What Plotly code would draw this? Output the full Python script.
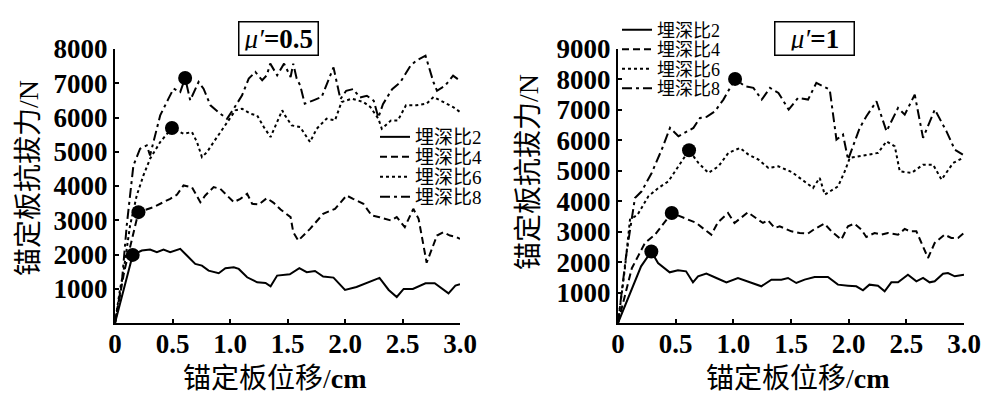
import plotly.graph_objects as go

# ---------- data: left panel (mu' = 0.5) ----------
L2_x = [0, 0.154, 0.233, 0.305, 0.364, 0.422, 0.48, 0.567, 0.625, 0.698, 0.756, 0.814, 0.902, 0.96, 1.033, 1.076, 1.149, 1.236, 1.309, 1.353, 1.41, 1.52, 1.603, 1.667, 1.739, 1.81, 1.9, 2.0, 2.1, 2.22, 2.3, 2.38, 2.45, 2.51, 2.59, 2.7, 2.78, 2.9, 2.96, 3.0]
L2_y = [0, 1988, 2115, 2144, 2066, 2144, 2066, 2164, 1969, 1725, 1676, 1530, 1452, 1598, 1628, 1579, 1335, 1189, 1170, 1072, 1384, 1420, 1599, 1482, 1520, 1355, 1325, 965, 1053, 1199, 1316, 965, 760, 994, 994, 1160, 1160, 867, 1092, 1131]

L4_x = [0, 0.08, 0.204, 0.334, 0.48, 0.538, 0.596, 0.669, 0.742, 0.785, 0.858, 0.916, 0.974, 1.033, 1.09, 1.149, 1.193, 1.25, 1.32, 1.38, 1.44, 1.527, 1.55, 1.594, 1.696, 1.81, 1.913, 2.014, 2.07, 2.13, 2.16, 2.232, 2.3, 2.4, 2.45, 2.52, 2.594, 2.64, 2.71, 2.8, 2.855, 2.913, 2.97, 3.0]
L4_y = [0, 1500, 3236, 3382, 3626, 3743, 4016, 3967, 3528, 3723, 3967, 3918, 3723, 3528, 3626, 3772, 3480, 3460, 3645, 3509, 3314, 3090, 2652, 2407, 2749, 3187, 3333, 3723, 3626, 3528, 3480, 3138, 3090, 2992, 3090, 2797, 3333, 3041, 1760, 2553, 2652, 2553, 2505, 2456]

L6_x = [0, 0.044, 0.073, 0.131, 0.189, 0.247, 0.305, 0.393, 0.495, 0.596, 0.669, 0.713, 0.756, 0.8, 0.858, 0.916, 0.974, 1.047, 1.105, 1.178, 1.236, 1.294, 1.353, 1.41, 1.454, 1.478, 1.536, 1.61, 1.696, 1.754, 1.84, 1.913, 1.97, 2.06, 2.16, 2.22, 2.29, 2.32, 2.4, 2.46, 2.53, 2.62, 2.71, 2.77, 2.855, 2.94, 3.0]
L6_y = [0, 994, 1481, 2846, 3723, 4308, 4795, 5283, 5692, 5526, 5575, 5283, 4844, 4990, 5283, 5575, 5867, 6209, 6257, 6111, 6062, 5721, 5429, 5867, 6209, 6062, 5770, 5721, 5283, 5672, 5965, 5916, 6452, 6550, 6452, 6306, 5965, 5672, 5916, 5916, 6355, 6355, 6404, 6599, 6452, 6306, 6160]

L8_x = [0, 0.06, 0.102, 0.16, 0.218, 0.276, 0.305, 0.393, 0.465, 0.509, 0.567, 0.61, 0.654, 0.727, 0.77, 0.83, 0.916, 0.974, 1.033, 1.105, 1.163, 1.22, 1.28, 1.32, 1.35, 1.41, 1.47, 1.527, 1.55, 1.58, 1.61, 1.65, 1.725, 1.797, 1.9, 1.96, 2.01, 2.07, 2.13, 2.19, 2.25, 2.29, 2.33, 2.41, 2.48, 2.57, 2.62, 2.7, 2.77, 2.8, 2.87, 2.94, 3.0]
L8_y = [0, 1200, 2846, 4600, 5088, 5185, 4893, 6062, 6550, 6842, 6745, 7154, 6501, 7037, 6842, 6355, 6111, 5965, 6257, 6647, 7135, 7330, 7086, 7232, 7573, 7232, 7573, 7183, 7573, 7135, 6940, 6404, 6501, 6599, 7463, 6537, 6780, 6829, 6585, 6634, 6488, 6000, 6390, 6829, 7024, 7512, 7658, 7805, 7024, 6780, 6927, 7220, 7073]

L_peak_x = [0.154, 0.204, 0.495, 0.61]
L_peak_y = [1988, 3236, 5692, 7154]

# ---------- data: right panel (mu' = 1) ----------
R2_x = [0, 0.2, 0.289, 0.347, 0.448, 0.52, 0.59, 0.65, 0.694, 0.766, 0.853, 0.94, 1.04, 1.127, 1.243, 1.33, 1.416, 1.474, 1.546, 1.618, 1.705, 1.82, 1.907, 1.994, 2.066, 2.124, 2.18, 2.254, 2.312, 2.37, 2.428, 2.514, 2.587, 2.645, 2.702, 2.746, 2.818, 2.861, 2.92, 3.0]
R2_y = [0, 1862, 2350, 1971, 1665, 1731, 1698, 1336, 1533, 1621, 1479, 1336, 1479, 1369, 1205, 1424, 1424, 1479, 1314, 1424, 1512, 1512, 1260, 1227, 1205, 1073, 1260, 1227, 1041, 1336, 1336, 1588, 1369, 1479, 1336, 1369, 1621, 1643, 1533, 1588]

R4_x = [0, 0.12, 0.234, 0.321, 0.466, 0.607, 0.68, 0.751, 0.809, 0.867, 0.954, 1.01, 1.084, 1.127, 1.214, 1.257, 1.3, 1.358, 1.402, 1.503, 1.575, 1.647, 1.705, 1.79, 1.85, 1.936, 1.994, 2.05, 2.11, 2.153, 2.225, 2.283, 2.34, 2.428, 2.486, 2.529, 2.587, 2.63, 2.688, 2.746, 2.832, 2.89, 2.948, 3.0]
R4_y = [0, 1800, 2629, 2902, 3615, 3395, 3286, 3067, 2902, 3308, 3614, 3286, 3505, 3636, 3395, 3286, 3373, 3121, 3176, 3012, 2957, 2935, 3089, 3264, 3012, 2738, 3176, 3264, 3067, 2826, 2957, 2902, 2957, 2902, 3089, 3012, 3012, 2629, 2136, 2629, 2902, 2793, 2793, 2957]

R6_x = [0, 0.06, 0.104, 0.147, 0.17, 0.263, 0.35, 0.437, 0.524, 0.616, 0.697, 0.784, 0.871, 0.957, 1.058, 1.131, 1.218, 1.304, 1.39, 1.506, 1.634, 1.691, 1.749, 1.793, 1.908, 1.966, 2.01, 2.096, 2.183, 2.255, 2.328, 2.4, 2.443, 2.545, 2.645, 2.732, 2.805, 2.906, 2.99]
R6_y = [0, 1800, 3395, 3504, 3560, 4161, 4436, 4654, 5146, 5672, 5258, 4929, 5146, 5587, 5751, 5531, 5366, 5094, 5146, 4960, 4600, 4436, 4765, 4216, 4489, 4982, 5422, 5475, 5531, 5587, 5968, 5804, 4982, 4929, 5202, 5202, 4709, 5258, 5422]

R8_x = [0, 0.07, 0.147, 0.205, 0.292, 0.379, 0.451, 0.524, 0.654, 0.711, 0.769, 0.841, 0.914, 1.015, 1.101, 1.174, 1.246, 1.318, 1.391, 1.48, 1.561, 1.648, 1.72, 1.836, 1.894, 1.951, 1.995, 2.096, 2.154, 2.241, 2.328, 2.428, 2.486, 2.573, 2.645, 2.747, 2.848, 2.92, 2.99]
R8_y = [0, 2200, 4108, 4325, 4929, 5695, 6408, 6132, 6408, 6737, 6770, 6956, 7338, 8018, 7776, 7723, 7338, 7723, 7558, 7009, 7394, 7338, 7887, 7667, 6024, 6188, 5366, 6408, 6790, 7282, 6296, 7065, 6845, 7502, 6079, 7009, 6296, 5695, 5531]

R_peak_x = [0.289, 0.466, 0.616, 1.015]
R_peak_y = [2350, 3615, 5672, 8018]

names = ["埋深比2", "埋深比4", "埋深比6", "埋深比8"]
x_ticks = [0, 0.5, 1.0, 1.5, 2.0, 2.5, 3.0]
x_ticktext = ["0", "0.5", "1.0", "1.5", "2.0", "2.5", "3.0"]
left_yticks = [1000, 2000, 3000, 4000, 5000, 6000, 7000, 8000]
right_yticks = [1000, 2000, 3000, 4000, 5000, 6000, 7000, 8000, 9000]

dashes = ["solid", "7px,4px", "3px,3px", "10px,4px,3px,4px"]

SERIF = "Liberation Serif, Noto Sans CJK SC"

W, H = 991, 398
def px(v):
    return v / W
def py(v):
    return 1 - v / H

fig = go.Figure()

left = [(L2_x, L2_y), (L4_x, L4_y), (L6_x, L6_y), (L8_x, L8_y)]
right = [(R2_x, R2_y), (R4_x, R4_y), (R6_x, R6_y), (R8_x, R8_y)]

def legname(k):
    return "legend" if k == 1 else "legend%d" % k

for i, (xs, ys) in enumerate(left):
    fig.add_trace(go.Scatter(x=xs, y=ys, mode="lines", name=names[i],
                             line=dict(color="black", width=2, dash=dashes[i]),
                             xaxis="x", yaxis="y", legend=legname(i + 1)))
fig.add_trace(go.Scatter(x=L_peak_x, y=L_peak_y, mode="markers", showlegend=False,
                         marker=dict(color="black", size=14), xaxis="x", yaxis="y"))

for i, (xs, ys) in enumerate(right):
    fig.add_trace(go.Scatter(x=xs, y=ys, mode="lines", name=names[i],
                             line=dict(color="black", width=2, dash=dashes[i]),
                             xaxis="x2", yaxis="y2", legend=legname(i + 5)))
fig.add_trace(go.Scatter(x=R_peak_x, y=R_peak_y, mode="markers", showlegend=False,
                         marker=dict(color="black", size=14), xaxis="x2", yaxis="y2"))

tickfont = dict(family="Liberation Serif", size=27, color="black", weight="bold")
common_x = dict(range=[0, 3.0], tickvals=x_ticks, ticktext=x_ticktext, showline=True,
                linecolor="black", linewidth=2, ticks="inside", ticklen=4, tickwidth=1.5,
                tickcolor="black", showgrid=False, zeroline=False, tickfont=tickfont,
                mirror=False, automargin=False, ticklabelstandoff=-4)
common_y = dict(showline=True, linecolor="black", linewidth=2, ticks="inside", ticklen=4,
                tickwidth=1.5, tickcolor="black", showgrid=False, zeroline=False,
                tickfont=tickfont, automargin=False)

fig.update_layout(
    width=W, height=H,
    margin=dict(l=0, r=0, t=0, b=0, autoexpand=False),
    paper_bgcolor="white", plot_bgcolor="white",
    xaxis=dict(domain=[px(115), px(460)], anchor="y", **common_x),
    yaxis=dict(domain=[1 - 323 / H, 1 - 49 / H], anchor="x", range=[0, 8000],
               tickvals=left_yticks, **common_y),
    xaxis2=dict(domain=[px(618), px(964)], anchor="y2", **common_x),
    yaxis2=dict(domain=[1 - 323 / H, 1 - 49 / H], anchor="x2", range=[0, 9000],
                tickvals=right_yticks, **common_y),
    showlegend=True,
)

# one legend box per entry so the rows can sit as tightly as in the original
left_rows = [137, 157, 177, 197]
right_rows = [30, 49.5, 69, 88.5]
legends = {}
for i, yy in enumerate(left_rows):
    legends[legname(i + 1)] = dict(x=px(375), y=py(yy), xanchor="left", yanchor="middle",
                                   bgcolor="rgba(0,0,0,0)", itemwidth=30,
                                   font=dict(family=SERIF, size=19, color="black"))
for i, yy in enumerate(right_rows):
    legends[legname(i + 5)] = dict(x=px(617), y=py(yy), xanchor="left", yanchor="middle",
                                   bgcolor="rgba(0,0,0,0)", itemwidth=30,
                                   font=dict(family=SERIF, size=18, color="black"))
fig.update_layout(**legends)

def ann(text, x, y, **kw):
    d = dict(text=text, x=px(x), y=py(y), xref="paper", yref="paper", showarrow=False,
             xanchor="center", yanchor="middle")
    d.update(kw)
    return d

boxfont = dict(family="Liberation Serif", size=27, color="black", weight="bold")
MU = "<span style='font-weight:normal'><i>μ′</i></span>"
annotations = [
    ann(MU + "=0.5", 278, 38.5, font=boxfont, bordercolor="black", borderwidth=1.5,
        borderpad=4, bgcolor="white", height=24),
    ann(MU + "=1", 814, 38.5, font=boxfont, bordercolor="black", borderwidth=1.5,
        borderpad=4, bgcolor="white", height=24, width=70),
    ann("锚定板抗拔力/N", 28, 178, textangle=-90, font=dict(family=SERIF, size=28, color="black")),
    ann("锚定板抗拔力/N", 528, 172, textangle=-90, font=dict(family=SERIF, size=28, color="black")),
    ann("锚定板位移/<b>cm</b>", 275, 378, font=dict(family=SERIF, size=28, color="black")),
    ann("锚定板位移/<b>cm</b>", 798, 378, font=dict(family=SERIF, size=28, color="black")),
]
fig.update_layout(annotations=annotations)

fig.write_html("out.html", config={"displayModeBar": False},
               post_script="document.body.style.margin='0';document.body.style.overflow='hidden';")
